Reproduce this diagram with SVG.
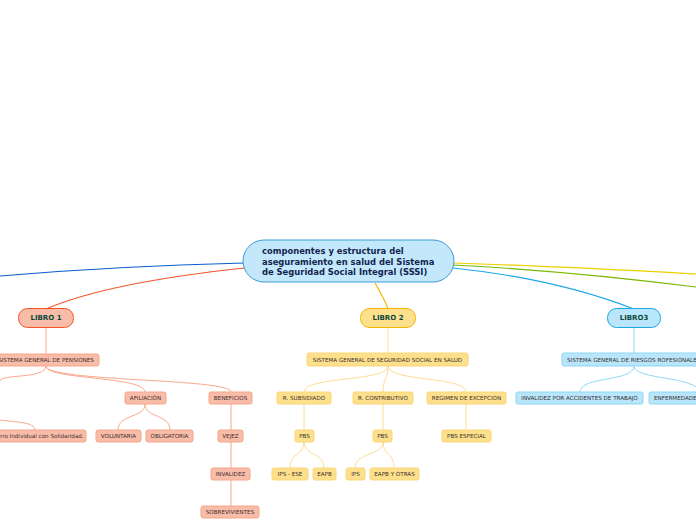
<svg xmlns="http://www.w3.org/2000/svg" width="696" height="520" viewBox="0 0 696 520">
<style>
.c{fill:none;stroke-width:1.2}
.m{fill:none;stroke-width:1}
.t{font-family:"DejaVu Sans",Verdana,sans-serif;font-size:5.6px;fill:#3b2f2f;text-anchor:middle;dominant-baseline:central}
.lb{font-family:"DejaVu Sans",Verdana,sans-serif;font-size:7px;font-weight:bold;fill:#0b4a3a;text-anchor:middle;dominant-baseline:central}
.r1{fill:#f9bca8;stroke:#f6a68c;stroke-width:1}
.r2{fill:#fde08c;stroke:#fbd57a;stroke-width:1}
.r3{fill:#b9e6fa;stroke:#8fd5f5;stroke-width:1}
.s1{stroke:#f8a88e}
.s2{stroke:#fdde90}
.s3{stroke:#92d8f6}
</style>
<rect width="696" height="520" fill="#ffffff"/>
<g id="connectors">
<path class="c" stroke="#0a5ccf" d="M244,263 C160,265 70,270 0,276"/>
<path class="c" stroke="#f2542a" d="M245,268 C160,277 90,290 46,309"/>
<path class="c" stroke="#f5b400" d="M375,283 C380,292 385,300 388,309"/>
<path class="c" stroke="#1aa8e8" d="M453,268 C530,276 590,292 634,309"/>
<path class="c" stroke="#ecd000" d="M453,263 C550,266 640,271 696,274"/>
<path class="c" stroke="#7ab800" d="M453,265 C550,270 640,280 696,287"/>
<path class="m s1" d="M46,328 L46,354"/>
<path class="m s1" d="M46,366 C46,379 0,374 0,381"/>
<path class="m s1" d="M46,366 C46,380 145,376 145,392"/>
<path class="m s1" d="M46,366 C46,382 231,378 231,392"/>
<path class="m s1" d="M0,420 C15,422 35,422 35,430"/>
<path class="m s1" d="M145,404 C145,418 118,414 118,430"/>
<path class="m s1" d="M145,404 C145,418 170,414 170,430"/>
<path class="m s1" d="M231,404 L231,430 M231,442 L231,468 M231,480 L231,506"/>
<path class="m s2" d="M388,328 L388,353"/>
<path class="m s2" d="M388,366 C388,382 304,376 304,392"/>
<path class="m s2" d="M388,366 C388,380 383,378 383,392"/>
<path class="m s2" d="M388,366 C388,382 466,376 466,392"/>
<path class="m s2" d="M304,404 L304,430"/>
<path class="m s2" d="M383,404 L383,430"/>
<path class="m s2" d="M466,404 L466,430"/>
<path class="m s2" d="M304,442 C304,456 290,452 290,468"/>
<path class="m s2" d="M304,442 C304,456 324,452 324,468"/>
<path class="m s2" d="M383,442 C383,456 355,452 355,468"/>
<path class="m s2" d="M383,442 C383,456 394,452 394,468"/>
<path class="m s3" d="M634,328 L634,353"/>
<path class="m s3" d="M634,366 C634,382 580,376 580,392"/>
<path class="m s3" d="M634,366 C634,380 696,376 700,392"/>
</g>
<g id="central">
<rect x="243" y="240" width="211" height="42" rx="21" fill="#c3e8fb" stroke="#3d9bd6" stroke-width="1"/>
<text font-family="'DejaVu Sans',Verdana,sans-serif" font-size="8.4" font-weight="bold" fill="#13254f">
<tspan x="262" y="254">componentes y estructura del</tspan>
<tspan x="262" y="264.5">aseguramiento en salud del Sistema</tspan>
<tspan x="262" y="275">de Seguridad Social Integral (SSSI)</tspan>
</text>
</g>
<g id="libro1"><rect x="18.5" y="308.5" width="55" height="19" rx="9" fill="#f9bca8" stroke="#f2542a"/><text class="lb" x="46" y="318">LIBRO 1</text></g>
<g id="libro2"><rect x="360.5" y="308.5" width="55" height="19" rx="9" fill="#fde08c" stroke="#f5b400"/><text class="lb" x="388" y="318">LIBRO 2</text></g>
<g id="libro3"><rect x="607.5" y="308.5" width="53" height="19" rx="9" fill="#b9e6fa" stroke="#1aa8e8"/><text class="lb" x="634" y="318">LIBRO3</text></g>
<g id="pensiones"><rect class="r1" x="-6" y="354" width="105" height="12" rx="2"/><text class="t" x="46" y="360">SISTEMA GENERAL DE PENSIONES</text></g>
<g id="ahorro"><rect class="r1" x="-20" y="430" width="106" height="12" rx="2"/><text class="t" x="0" y="436" style="text-anchor:start">rro Individual con Solidaridad.</text></g>
<g id="afiliacion"><rect class="r1" x="125" y="392" width="41" height="12" rx="2"/><text class="t" x="145.5" y="398">AFILIACIÓN</text></g>
<g id="beneficios"><rect class="r1" x="209" y="392" width="43" height="12" rx="2"/><text class="t" x="230.5" y="398">BENEFICIOS</text></g>
<g id="voluntaria"><rect class="r1" x="96" y="430" width="45" height="12" rx="2"/><text class="t" x="118.5" y="436">VOLUNTARIA</text></g>
<g id="obligatoria"><rect class="r1" x="146" y="430" width="47" height="12" rx="2"/><text class="t" x="169.5" y="436">OBLIGATORIA</text></g>
<g id="vejez"><rect class="r1" x="218" y="430" width="25" height="12" rx="2"/><text class="t" x="230.5" y="436">VEJEZ</text></g>
<g id="invalidez"><rect class="r1" x="211" y="468" width="39" height="12" rx="2"/><text class="t" x="230.5" y="474">INVALIDEZ</text></g>
<g id="sobrevivientes"><rect class="r1" x="201" y="506" width="58" height="12" rx="2"/><text class="t" x="230" y="512">SOBREVIVIENTES</text></g>
<g id="salud"><rect class="r2" x="307" y="353" width="161" height="13" rx="2"/><text class="t" x="387.5" y="359.5">SISTEMA GENERAL DE SEGURIDAD SOCIAL EN SALUD</text></g>
<g id="subsidiado"><rect class="r2" x="277" y="392" width="54" height="12" rx="2"/><text class="t" x="304" y="398">R. SUBSIDIADO</text></g>
<g id="contributivo"><rect class="r2" x="353" y="392" width="60" height="12" rx="2"/><text class="t" x="383" y="398">R. CONTRIBUTIVO</text></g>
<g id="excepcion"><rect class="r2" x="427" y="392" width="79" height="12" rx="2"/><text class="t" x="466.5" y="398">REGIMEN DE EXCEPCION</text></g>
<g id="pbs1"><rect class="r2" x="295" y="430" width="19" height="12" rx="2"/><text class="t" x="304.5" y="436">PBS</text></g>
<g id="pbs2"><rect class="r2" x="373" y="430" width="19" height="12" rx="2"/><text class="t" x="382.5" y="436">PBS</text></g>
<g id="pbsespecial"><rect class="r2" x="442" y="430" width="49" height="12" rx="2"/><text class="t" x="466.5" y="436">PBS ESPECIAL</text></g>
<g id="ipsese"><rect class="r2" x="272" y="468" width="36" height="12" rx="2"/><text class="t" x="290" y="474">IPS - ESE</text></g>
<g id="eapb1"><rect class="r2" x="313" y="468" width="23" height="12" rx="2"/><text class="t" x="324.5" y="474">EAPB</text></g>
<g id="ips"><rect class="r2" x="346" y="468" width="19" height="12" rx="2"/><text class="t" x="355.5" y="474">IPS</text></g>
<g id="eapbotras"><rect class="r2" x="370" y="468" width="49" height="12" rx="2"/><text class="t" x="394.5" y="474">EAPB Y OTRAS</text></g>
<g id="riesgos"><rect class="r3" x="562" y="353" width="144" height="13" rx="2"/><text class="t" x="567" y="359.5" style="text-anchor:start">SISTEMA GENERAL DE RIESGOS ROFESIONALES</text></g>
<g id="accidentes"><rect class="r3" x="516" y="392" width="127" height="12" rx="2"/><text class="t" x="579.5" y="398">INVALIDEZ POR ACCIDENTES DE TRABAJO</text></g>
<g id="enfermedades"><rect class="r3" x="649" y="392" width="60" height="12" rx="2"/><text class="t" x="654" y="398" style="text-anchor:start">ENFERMEDADES</text></g>
</svg>
